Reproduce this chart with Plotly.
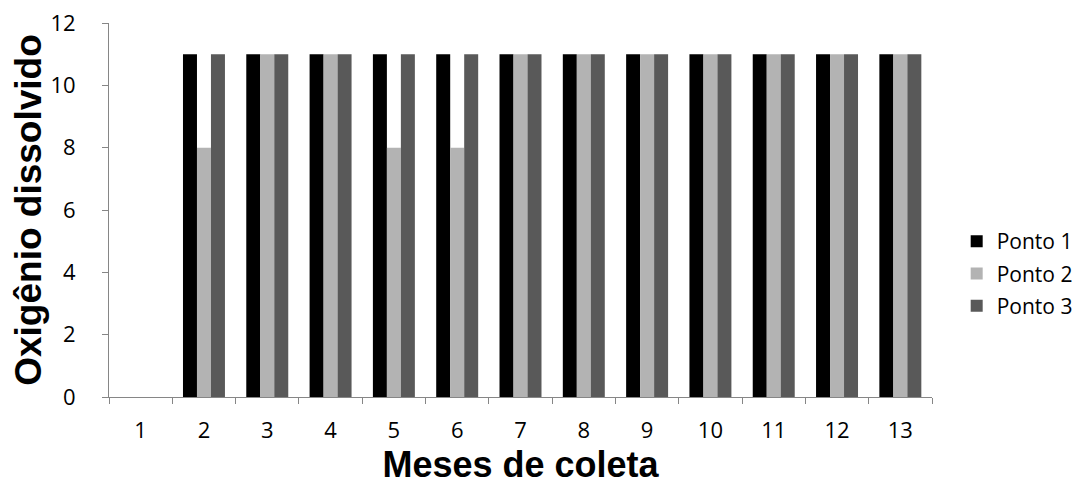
import plotly.graph_objects as go

meses = [str(i) for i in range(1, 14)]
ponto1 = [0, 11, 11, 11, 11, 11, 11, 11, 11, 11, 11, 11, 11]
ponto2 = [0, 8, 11, 11, 8, 8, 11, 11, 11, 11, 11, 11, 11]
ponto3 = [0, 11, 11, 11, 11, 11, 11, 11, 11, 11, 11, 11, 11]
series = [("Ponto 1", ponto1, "#000000"), ("Ponto 2", ponto2, "#b3b3b3"), ("Ponto 3", ponto3, "#595959")]

fig = go.Figure()
for name, vals, col in series:
    fig.add_trace(go.Bar(x=meses, y=vals, name=name, legendgroup=name,
                         marker=dict(color=col, line=dict(width=0))))

axis_col = "#868686"
fig.update_layout(
    width=1087, height=494,
    barmode="group", bargap=0.337, bargroupgap=0,
    paper_bgcolor="white", plot_bgcolor="white",
    margin=dict(l=101, r=163, t=15, b=105),
    font=dict(family="Open Sans", size=22, color="#000000"),
    legend=dict(x=1.03, y=0.33, yanchor="middle", xanchor="left",
                font=dict(size=21), tracegroupgap=2, itemwidth=30),
    xaxis=dict(type="category", showline=True, linecolor=axis_col, linewidth=1,
               ticks="outside", tickcolor=axis_col, ticklen=6, tickson="boundaries",
               tickfont=dict(size=22), automargin=False, ticklabelstandoff=14,
               title=dict(text="<b>Meses de coleta</b>", font=dict(family="Liberation Sans", size=36), standoff=8)),
    yaxis=dict(range=[0, 12], dtick=2, showline=True, linecolor=axis_col, linewidth=1,
               ticks="outside", tickcolor=axis_col, ticklen=6, showgrid=False, zeroline=False,
               tickfont=dict(size=22), automargin=False, ticklabelstandoff=22,
               ticklabeloverflow="allow",
               title=dict(text="<b>Oxigênio dissolvido</b>", font=dict(family="Liberation Sans", size=37), standoff=0)),
)
fig.write_html("out.html")
